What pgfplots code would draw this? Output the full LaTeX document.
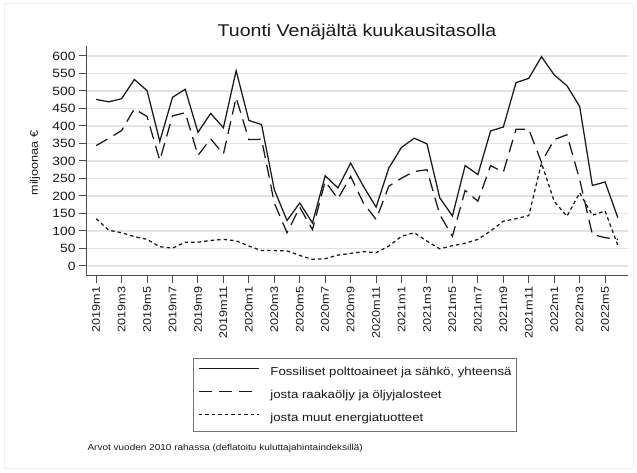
\documentclass[border=0pt]{standalone}
\usepackage{pgfplots}
\pgfplotsset{compat=1.18}
\usepackage{pgfplotstable}
\usepackage{fontspec}
\setmainfont{Liberation Sans}[FakeStretch=1.15]
\pgfplotstableread{
i tot oil other
0 476 344 135
1 469 365 102
2 478 387 95
3 533 449 84
4 501 427 76
5 356 302 55
6 482 429 51
7 505 438 68
8 382 316 68
9 436 363 73
10 395 320 76
11 558 481 72
12 416 361 57
13 404 362 44
14 218 180 44
15 130 95 43
16 180 168 30
17 123 104 19
18 258 242 21
19 223 192 31
20 294 256 36
21 228 180 41
22 168 133 38
23 280 228 57
24 339 251 85
25 365 270 95
26 349 275 71
27 195 147 49
28 143 85 58
29 287 216 65
30 261 185 76
31 386 287 100
32 397 268 128
33 524 391 135
34 536 391 144
35 598 296 294
36 546 361 185
37 515 375 142
38 456 247 209
39 230 90 145
40 240 81 157
41 138 76 59
}\datatable
\begin{document}
\begin{tikzpicture}[x=1pt,y=1pt]
\useasboundingbox (0,0) rectangle (637,473);
\draw[gray!12, line width=1pt] (4,4) rectangle (633,469);
\node[font=\fontsize{17}{20}\selectfont, text=black!90] at (357,441) {Tuonti Venäjältä kuukausitasolla};
\node[font=\fontsize{8.7}{10}\selectfont, text=black!90, anchor=west, inner sep=0pt] at (87.3,24.7) {Arvot vuoden 2010 rahassa (deflatoitu kuluttajahintaindeksillä)};
\begin{axis}[
  at={(86pt,197pt)}, anchor=south west,
  scale only axis, width=542pt, height=230pt,
  xmin=-0.8, xmax=41.8, ymin=-28.6, ymax=628.6,
  axis lines=left,
  axis line style={-, black!70, line width=1pt},
  ytick={0,50,...,600},
  xtick={0,2,...,40},
  xticklabels={2019m1,2019m3,2019m5,2019m7,2019m9,2019m11,2020m1,2020m3,2020m5,2020m7,2020m9,2020m11,2021m1,2021m3,2021m5,2021m7,2021m9,2021m11,2022m1,2022m3,2022m5},
  tick align=outside, major tick length=7pt,
  tick style={black!70, line width=1pt},
  ymajorgrids, grid style={gray!22, line width=1.3pt},
  /pgf/number format/assume math mode=true,
  yticklabel style={font=\fontsize{12}{14}\selectfont, text=black!90},
  xticklabel style={font=\fontsize{11}{13}\selectfont, text=black!90, rotate=90, anchor=east},
  ylabel={miljoonaa €},
  ylabel style={font=\fontsize{11}{13}\selectfont, text=black!90, at={(axis description cs:-0.094,0.491)}, anchor=center},
  legend style={at={(0.197,-0.358)}, anchor=north west, draw=black!55, line width=0.8pt,
    inner xsep=5pt, inner ysep=7.5pt, row sep=11pt, column sep=11pt,
    font=\fontsize{11.5}{13}\selectfont, text=black!90,
    nodes={inner sep=0pt, text height=9pt, text depth=3pt}},
  legend cell align=left,
  legend image code/.code={\draw[#1] (0pt,4pt) -- (60pt,4pt);},
]
\addplot[black!90, line width=1.25pt] table[x=i, y=tot] {\datatable};
\addlegendentry{Fossiliset polttoaineet ja sähkö, yhteensä}
\addplot[black!90, line width=1.25pt, dash pattern=on 13pt off 7pt] table[x=i, y=oil] {\datatable};
\addlegendentry{josta raakaöljy ja öljyjalosteet}
\addplot[black!90, line width=1.25pt, dash pattern=on 3.5pt off 3pt] table[x=i, y=other] {\datatable};
\addlegendentry{josta muut energiatuotteet}
\end{axis}
\end{tikzpicture}
\end{document}
